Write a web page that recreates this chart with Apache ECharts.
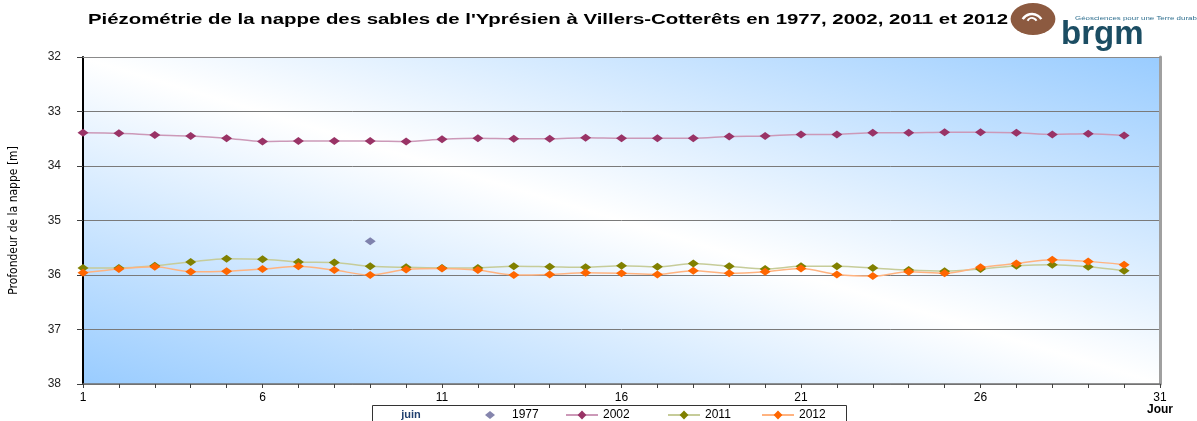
<!DOCTYPE html>
<html><head><meta charset="utf-8">
<script src="https://cdn.jsdelivr.net/npm/echarts@6/dist/echarts.min.js"></script>
<style>html,body{margin:0;padding:0;background:#fff}#c{width:1197px;height:421px}</style>
</head><body><div id="c"></div>
<script>
// ---- data ----
const titleText = "Piézométrie de la nappe des sables de l'Yprésien à Villers-Cotterêts en 1977, 2002, 2011 et 2012";
const yAxisName = "Profondeur de la nappe [m]";
const xAxisName = "Jour";
const monthLabel = "juin";
const days = [1,2,3,4,5,6,7,8,9,10,11,12,13,14,15,16,17,18,19,20,21,22,23,24,25,26,27,28,29,30];
const days1977 = [9];
const v1977 = [35.38];
const v2002 = [33.39,33.40,33.43,33.45,33.49,33.55,33.54,33.54,33.54,33.55,33.51,33.49,33.50,33.50,33.48,33.49,33.49,33.49,33.46,33.45,33.42,33.42,33.39,33.39,33.38,33.38,33.39,33.42,33.41,33.44];
const v2011 = [35.87,35.87,35.83,35.76,35.70,35.71,35.76,35.77,35.84,35.86,35.87,35.87,35.84,35.85,35.86,35.83,35.85,35.79,35.84,35.89,35.84,35.84,35.87,35.91,35.93,35.89,35.83,35.81,35.85,35.92];
const v2012 = [35.96,35.89,35.85,35.94,35.93,35.89,35.84,35.91,36.00,35.90,35.88,35.91,36.00,35.99,35.96,35.97,35.99,35.92,35.97,35.94,35.88,35.99,36.02,35.94,35.97,35.86,35.79,35.72,35.75,35.81];
const seriesNames = ['1977','2002','2011','2012'];

// ---- styles ----
const FONT = '"Liberation Sans", Arial, sans-serif';
const NARROW = '"Liberation Sans Narrow", "Arial Narrow", "DejaVu Sans Condensed", sans-serif';
const markerCol = {'1977':'#666699','2002':'#993366','2011':'#808000','2012':'#ff6600'};
const lineCol = {'1977':'#666699','2002':'#cc99b8','2011':'#c6cc99','2012':'#ffb380'};

function measure(text, font){
  const c = document.createElement('canvas').getContext('2d');
  c.font = font; return c.measureText(text).width;
}
const titleFont = 'bold 14px ' + FONT;
const titleScale = 920 / measure(titleText, titleFont);
const tagText = 'Géosciences pour une Terre durable';
const tagFont = '6px ' + FONT;
const tagScale = 128 / measure(tagText, tagFont);

const chart = echarts.init(document.getElementById('c'), null, {renderer:'canvas'});

const pairs = (xs, vs) => xs.map((d,i)=>[d, vs[i]]);
function lineSeries(name, vals){
  return {
    name, type:'line', data: pairs(days, vals), smooth:0.3,
    symbol:'diamond', symbolSize:[11,8],
    lineStyle:{color:lineCol[name], width:1.5},
    itemStyle:{color:markerCol[name]},
    emphasis:{disabled:true}, animation:false
  };
}

const legendLefts = [485, 565, 667, 761];
const legendW = [10, 32, 32, 32];
const legendH = [8, 11, 11, 11];
const legendTop = [409, 409, 409, 409];
const legendPadL = [12, 0, 0, 0];
const legends = seriesNames.map((n,i)=>({
  data:[i === 0 ? {name:n, icon:'diamond'} : {name:n}], left:legendLefts[i], top:legendTop[i], padding:0,
  itemWidth:legendW[i], itemHeight:legendH[i], itemGap:6,
  textStyle:{fontSize:12, color:'#000', fontFamily:FONT, padding:[0,0,0,legendPadL[i]]}, selectedMode:false
}));

const grad = new echarts.graphic.LinearGradient(530, 520, 711, -79, [
  {offset:0, color:'#99ccff'}, {offset:0.5, color:'#ffffff'}, {offset:1, color:'#99ccff'}
], true);

chart.setOption({
  animation:false,
  grid:{left:81, right:37, top:57, bottom:37, show:true, backgroundColor:grad, borderWidth:0},
  legend: legends,
  xAxis:[{
    type:'value', min:1, max:31, interval:5,
    axisLine:{show:true, onZero:false, lineStyle:{color:'#707070', width:1.5}},
    axisTick:{show:true, length:4, lineStyle:{color:'#404040'}},
    minorTick:{show:true, splitNumber:5, length:4, lineStyle:{color:'#404040'}},
    axisLabel:{fontSize:12, color:'#000', fontFamily:FONT, margin:8},
    splitLine:{show:false}
  },{
    type:'value', position:'top', min:1, max:31,
    axisLine:{show:true, onZero:false, lineStyle:{color:'#8a8a8a', width:1}},
    axisTick:{show:false}, axisLabel:{show:false}, splitLine:{show:false}
  }],
  yAxis:[{
    type:'value', inverse:true, min:32, max:38, interval:1,
    name:yAxisName, nameLocation:'middle', nameGap:63, nameRotate:90,
    nameTextStyle:{fontSize:12, color:'#000', fontFamily:NARROW},
    axisLine:{show:true, onZero:false, lineStyle:{color:'#000', width:2}},
    axisTick:{show:true, length:6, lineStyle:{color:'#404040'}},
    axisLabel:{fontSize:12, color:'#222', fontFamily:FONT, margin:22},
    splitLine:{show:true, lineStyle:{color:'#7a7a7a', width:1}}
  },{
    type:'value', position:'right', inverse:true, min:32, max:38,
    axisLine:{show:true, onZero:false, lineStyle:{color:'#a0a0a0', width:3}},
    axisTick:{show:false}, axisLabel:{show:false}, splitLine:{show:false}
  }],
  series:[
    {name:'1977', type:'scatter', data:pairs(days1977, v1977), symbol:'diamond', symbolSize:[11,8],
     itemStyle:{color:markerCol['1977']}, emphasis:{disabled:true}},
    lineSeries('2002', v2002),
    lineSeries('2011', v2011),
    lineSeries('2012', v2012)
  ],
  graphic:[
    {type:'text', x:88, y:20, scaleX:titleScale, style:{text:titleText, font:titleFont, fill:'#000', align:'left', verticalAlign:'middle'}},
    {type:'circle', x:1033, y:19, scaleX:1.4, shape:{cx:0, cy:0, r:16}, style:{fill:'#8c5a40'}},
    {type:'arc', shape:{cx:1032, cy:25, r:11, startAngle:-Math.PI*0.82, endAngle:-Math.PI*0.18, clockwise:true}, style:{stroke:'#fff', lineWidth:2.5, fill:null}},
    {type:'arc', shape:{cx:1032, cy:23, r:5, startAngle:-Math.PI*0.85, endAngle:-Math.PI*0.15, clockwise:true}, style:{stroke:'#fff', lineWidth:2, fill:null}},
    {type:'text', x:1061, y:35, style:{text:'brgm', font:'bold 33px ' + FONT, fill:'#1b4d63', align:'left', verticalAlign:'middle'}},
    {type:'text', x:1075, y:18, scaleX:tagScale, style:{text:tagText, font:tagFont, fill:'#2f6f8f', align:'left', verticalAlign:'middle'}},
    {type:'text', x:1160, y:410, style:{text:xAxisName, font:'bold 12px ' + FONT, fill:'#000', align:'center', verticalAlign:'middle'}},
    {type:'rect', z:-1, shape:{x:372.5, y:405.5, width:474, height:30}, style:{fill:'#fff', stroke:'#333', lineWidth:1}},
    {type:'text', x:411, y:415, style:{text:monthLabel, font:'bold 11px ' + FONT, fill:'#1f3f6f', align:'center', verticalAlign:'middle'}}
  ]
});
</script>
</body></html>
